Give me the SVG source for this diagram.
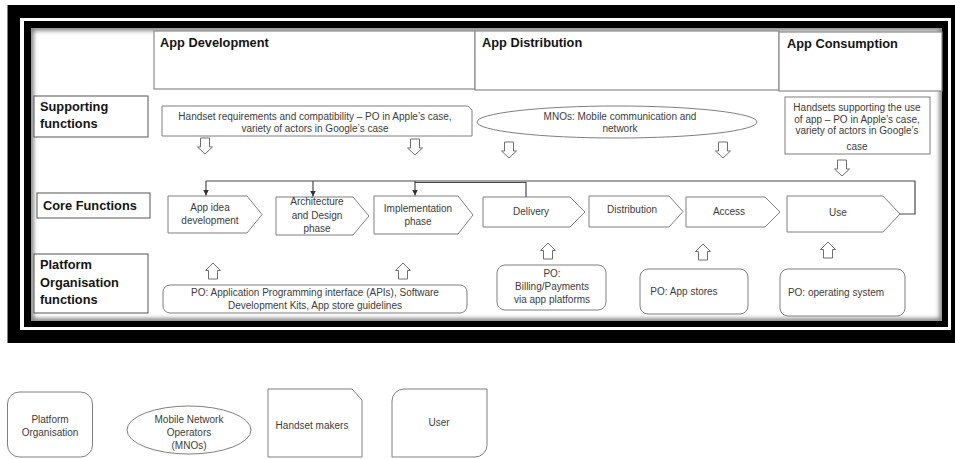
<svg xmlns="http://www.w3.org/2000/svg" width="955" height="459" viewBox="0 0 955 459">
<style>
.box{fill:#fff;stroke:#7f7f7f;stroke-width:1}
.hdr{fill:#fff;stroke:#8a8a8a;stroke-width:1.2}
.lbl{fill:#fff;stroke:#555;stroke-width:1}
.bt{font-family:"Liberation Sans",Arial,sans-serif;font-weight:bold;font-size:12.8px;fill:#141414}
.t{font-family:"Liberation Sans",Arial,sans-serif;font-size:10px;fill:#3c3c3c;text-anchor:middle}
.ar{fill:#fff;stroke:#6f6f6f;stroke-width:1}
.ln{fill:none;stroke:#4a4a4a;stroke-width:1.2}
</style>
<defs>
<path id="da" d="M-4.5,0 H4.5 V9 H7.5 L0,16 L-7.5,9 H-4.5 Z"/>
<path id="ua" d="M0,0 L7.5,7.5 H4.5 V16 H-4.5 V7.5 H-7.5 Z"/>
<marker id="mh" viewBox="0 0 10 10" refX="10" refY="5" markerWidth="6" markerHeight="6" orient="auto" markerUnits="userSpaceOnUse">
<path d="M0,0 L10,5 L0,10 Z" fill="#333"/>
</marker>
<filter id="blur" x="-5%" y="-5%" width="110%" height="110%"><feGaussianBlur stdDeviation="2"/></filter>
<clipPath id="inner"><rect x="31" y="28" width="911" height="293"/></clipPath>
</defs>

<!-- frame -->
<g id="frame">
<rect x="7.5" y="5" width="947.5" height="338" fill="#000"/>
<rect x="20" y="18" width="931" height="312" fill="#fff"/>
<rect x="24" y="21" width="924" height="306" fill="#000"/>
<rect x="31" y="28" width="911" height="293" fill="#fff"/>
<rect x="31" y="28" width="911" height="293" fill="none" stroke="#777" stroke-width="5" filter="url(#blur)" clip-path="url(#inner)"/>
</g>

<!-- column headers -->
<g id="hdr-dev"><rect class="hdr" x="154" y="31" width="321" height="58"/><text class="bt" x="160" y="47">App Development</text></g>
<g id="hdr-dist"><rect class="hdr" x="475" y="31" width="304" height="59"/><text class="bt" x="482" y="47">App Distribution</text></g>
<g id="hdr-cons"><rect class="hdr" x="779" y="32" width="163" height="59"/><text class="bt" x="787" y="48">App Consumption</text></g>

<!-- row labels -->
<g id="row-support"><rect class="lbl" x="34" y="96" width="114" height="41"/><text class="bt" x="40" y="111">Supporting</text><text class="bt" x="40" y="128">functions</text></g>
<g id="row-core"><rect class="lbl" x="37" y="193" width="113" height="25"/><text class="bt" x="43" y="210">Core Functions</text></g>
<g id="row-platform"><rect class="lbl" x="34" y="254" width="114" height="59"/><text class="bt" x="40" y="269">Platform</text><text class="bt" x="40" y="287">Organisation</text><text class="bt" x="40" y="304">functions</text></g>

<!-- supporting functions -->
<g id="handset-req"><path class="box" d="M162,106 H468 L472,110 V136 H162 Z"/><text class="t" x="315" y="120">Handset requirements and compatibility – PO in Apple’s case,</text><text class="t" x="315" y="132">variety of actors in Google’s case</text></g>
<g id="mnos"><ellipse class="box" cx="617" cy="122" rx="140" ry="16"/><text class="t" x="620" y="120">MNOs: Mobile communication and</text><text class="t" x="620" y="131.5">network</text></g>
<g id="handsets-use"><rect class="box" x="785" y="97" width="145" height="57"/><text class="t" x="857" y="111">Handsets supporting the use</text><text class="t" x="857" y="122.5">of app – PO in Apple’s case,</text><text class="t" x="857" y="134">variety of actors in Google’s</text><text class="t" x="857" y="150">case</text></g>

<!-- core functions -->
<g id="app-idea"><path class="box" d="M168,196 H247 L262,214.5 L247,233 H168 Z"/><text class="t" x="210" y="211">App idea</text><text class="t" x="210" y="224">development</text></g>
<g id="architecture"><path class="box" d="M276,197 H353 L369,216 L353,235 H276 Z"/><text class="t" x="317" y="205">Architecture</text><text class="t" x="317" y="218.5">and Design</text><text class="t" x="317" y="232">phase</text></g>
<g id="implementation"><path class="box" d="M374,196 H458 L473,215 L458,234 H374 Z"/><text class="t" x="418" y="212">Implementation</text><text class="t" x="418" y="225">phase</text></g>
<g id="delivery"><path class="box" d="M483,197 H570 L585,212 L570,227 H483 Z"/><text class="t" x="531" y="215">Delivery</text></g>
<g id="distribution"><path class="box" d="M589,196 H669 L683,211.5 L669,227 H589 Z"/><text class="t" x="632" y="213">Distribution</text></g>
<g id="access"><path class="box" d="M686,197 H765 L780,212 L765,227 H686 Z"/><text class="t" x="729" y="215">Access</text></g>
<g id="use"><path class="box" d="M787,196 H883 L900,214 L883,232 H787 Z"/><text class="t" x="838" y="216">Use</text></g>

<!-- platform organisation functions -->
<g id="po-api"><rect class="box" x="163" y="285" width="304" height="28" rx="7"/><text class="t" x="315" y="296">PO: Application Programming interface (APIs), Software</text><text class="t" x="315" y="308.5">Development Kits, App store guidelines</text></g>
<g id="po-billing"><rect class="box" x="497" y="265" width="109" height="45" rx="8"/><text class="t" x="552" y="277">PO:</text><text class="t" x="552" y="290">Billing/Payments</text><text class="t" x="552" y="303">via app platforms</text></g>
<g id="po-stores"><rect class="box" x="640" y="269" width="108" height="45" rx="8"/><text class="t" x="684" y="295">PO: App stores</text></g>
<g id="po-os"><rect class="box" x="780" y="269" width="125" height="47" rx="8"/><text class="t" x="836" y="296">PO: operating system</text></g>

<!-- connectors -->
<g id="connectors">
<path class="ln" d="M900,214 H915 V181 H206"/>
<path class="ln" d="M526,197 V182.5 H415"/>
<path class="ln" d="M206,181 V195.5" marker-end="url(#mh)"/>
<path class="ln" d="M313,181 V196.5" marker-end="url(#mh)"/>
<path class="ln" d="M415,181 V195.5" marker-end="url(#mh)"/>
<use href="#da" class="ar" x="205" y="138"/>
<use href="#da" class="ar" x="415" y="139"/>
<use href="#da" class="ar" x="509" y="142"/>
<use href="#da" class="ar" x="723" y="142"/>
<use href="#da" class="ar" x="842" y="160"/>
<use href="#ua" class="ar" x="213" y="263"/>
<use href="#ua" class="ar" x="403" y="263"/>
<use href="#ua" class="ar" x="548" y="243"/>
<use href="#ua" class="ar" x="703" y="244"/>
<use href="#ua" class="ar" x="828" y="242"/>
</g>

<!-- legend -->
<g id="legend-po"><rect class="box" x="7.5" y="392" width="85" height="65" rx="12"/><text class="t" x="50" y="423">Platform</text><text class="t" x="50" y="436">Organisation</text></g>
<g id="legend-mnos"><ellipse class="box" cx="189" cy="430" rx="62" ry="24"/><text class="t" x="189" y="423">Mobile Network</text><text class="t" x="189" y="436">Operators</text><text class="t" x="189" y="449">(MNOs)</text></g>
<g id="legend-handset"><path class="box" d="M268,389 H352 L362,400 V457 H268 Z"/><text class="t" x="312" y="429">Handset makers</text></g>
<g id="legend-user"><path class="box" d="M404,389 H487 V445 A12,12 0 0 1 475,457 H392 V401 A12,12 0 0 1 404,389 Z"/><text class="t" x="439" y="426">User</text></g>
</svg>
